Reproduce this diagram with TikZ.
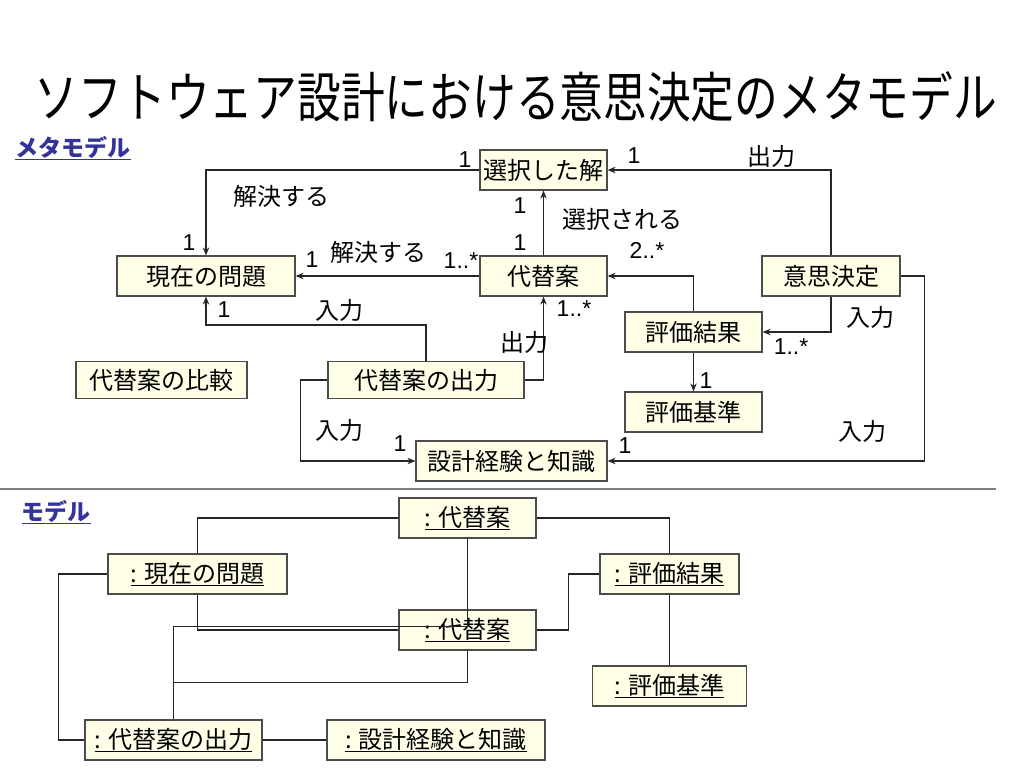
\documentclass[tikz,border=0pt]{standalone}
\usepackage{fontspec}
\usepackage{graphicx}
\usetikzlibrary{arrows.meta}
\setmainfont{Noto Sans CJK JP}
\newfontfamily\arialfont{Liberation Sans}
\definecolor{boxfill}{RGB}{255,255,232}
\definecolor{headblue}{RGB}{51,51,153}

\begin{document}
\begin{tikzpicture}[x=1pt,y=-1pt,
  cls/.style={draw=black!70,fill=boxfill,line width=1.2pt,minimum height=40pt,inner sep=0pt,font=\fontsize{24}{24}\selectfont},
  lbl/.style={font=\fontsize{24}{24}\selectfont,inner sep=0pt},
  mult/.style={font=\arialfont\fontsize{23}{23}\selectfont,inner sep=0pt},
  conn/.style={line width=1.2pt,black!85},
  tip/.style={-{Stealth[length=8pt,width=6.5pt]}},
  head/.style={font=\bfseries\fontsize{23}{23}\selectfont,text=headblue,inner sep=0pt}]
  \useasboundingbox (0,0) rectangle (1024,768);
  \node (title) at (516,97) {\fontsize{54}{54}\selectfont\scalebox{0.81}[1]{ソフトウェア設計における意思決定のメタモデル}};
  \node[head] (meta) at (73,148) {\underline{メタモデル}};
  \node[head] (model) at (56,512) {\underline{モデル}};
  \draw[line width=2pt,black!50] (0,489) -- (996,489);

  \node[cls,minimum width=127pt] (chosen) at (543.5,170) {選択した解};
  \node[cls,minimum width=178pt] (prob) at (206,276) {現在の問題};
  \node[cls,minimum width=127pt] (alt) at (543.5,276) {代替案};
  \node[cls,minimum width=138pt] (dec) at (831,276) {意思決定};
  \node[cls,minimum width=137pt] (res) at (693.5,332) {評価結果};
  \node[cls,minimum width=137pt] (crit) at (693.5,412) {評価基準};
  \node[cls,minimum width=171pt,minimum height=37pt] (cmp) at (161.5,380) {代替案の比較};
  \node[cls,minimum width=196pt,minimum height=37pt] (out) at (426,380) {代替案の出力};
  \node[cls,minimum width=191pt] (know) at (511.5,461) {設計経験と知識};

  \draw[conn,tip] (chosen.west) -| (prob.north);
  \draw[conn,tip] (alt.west) -- (prob.east);
  \draw[conn,tip] (alt.north) -- (chosen.south);
  \draw[conn,tip] (dec.north) |- (chosen.east);
  \draw[conn,tip] (res.north) |- (alt.east);
  \draw[conn,tip] (dec.south) |- (res.east);
  \draw[conn,tip] (res.south) -- (crit.north);
  \draw[conn,tip] (dec.east) -- ++(24,0) |- (know.east);
  \draw[conn,tip] (out.north) -- ++(0,-36) -| (prob.south);
  \draw[conn,tip] (out.east) -| (alt.south);
  \draw[conn,tip] (out.west) -- ++(-27,0) |- (know.west);

  \node[mult] (chosenw) at (465,160) {1};
  \node[lbl] (solve1) at (281,196) {解決する};
  \node[mult] (probn) at (189,243) {1};
  \node[mult] (probe) at (312,260) {1};
  \node[lbl] (solve2) at (378,252) {解決する};
  \node[mult] (altw) at (461,261) {1..*};
  \node[mult] (chosens) at (520,206) {1};
  \node[lbl] (select) at (622,219) {選択される};
  \node[mult] (altn) at (520,243) {1};
  \node[mult] (chosene) at (634,156) {1};
  \node[lbl] (outdec) at (771,156) {出力};
  \node[mult] (alte) at (647,250) {2..*};
  \node[lbl] (indec) at (870,317) {入力};
  \node[mult] (rese) at (791,347) {1..*};
  \node[mult] (critn) at (706,381) {1};
  \node[lbl] (inknow) at (862,431) {入力};
  \node[mult] (knowe) at (625,446) {1};
  \node[mult] (probs) at (224,310) {1};
  \node[lbl] (inprob) at (339,310) {入力};
  \node[mult] (alts) at (574,309) {1..*};
  \node[lbl] (outalt) at (524,342) {出力};
  \node[lbl] (inout) at (339,430) {入力};
  \node[mult] (knoww) at (400,444) {1};

  \node[cls,minimum width=137pt] (malta) at (467.5,518) {\underline{: 代替案}};
  \node[cls,minimum width=179pt] (mprob) at (197.5,574) {\underline{: 現在の問題}};
  \node[cls,minimum width=139pt] (mres) at (669.5,574) {\underline{: 評価結果}};
  \node[cls,minimum width=137pt] (maltb) at (467.5,630) {\underline{: 代替案}};
  \node[cls,minimum width=154pt] (mcrit) at (669.5,686) {\underline{: 評価基準}};
  \node[cls,minimum width=177pt] (mout) at (173.5,740) {\underline{: 代替案の出力}};
  \node[cls,minimum width=218pt] (mknow) at (436,740) {\underline{: 設計経験と知識}};

  \draw[conn] (malta.west) -| (mprob.north);
  \draw[conn] (mprob.south) |- (maltb.west);
  \draw[conn] (malta.south) -- ++(0,88) -| (mout.north);
  \draw[conn] (maltb.south) -- ++(0,32) -| (mout.north);
  \draw[conn] (mprob.west) -- ++(-49,0) |- (mout.west);
  \draw[conn] (mout.east) -- (mknow.west);
  \draw[conn] (malta.east) -| (mres.north);
  \draw[conn] (maltb.east) -- ++(32,0) |- (mres.west);
  \draw[conn] (mres.south) -- (mcrit.north);
\end{tikzpicture}
\end{document}
